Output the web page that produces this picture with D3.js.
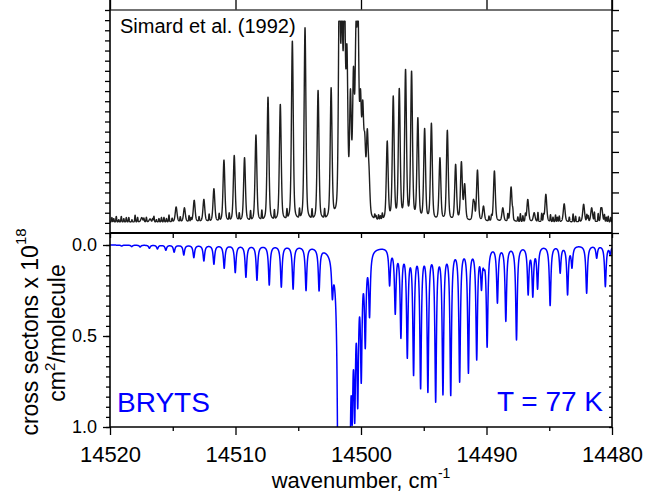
<!DOCTYPE html>
<html><head><meta charset="utf-8">
<script src="https://cdn.jsdelivr.net/npm/d3@7"></script>
<style>
body{margin:0;background:#fff;}
svg{display:block;font-family:"Liberation Sans",Arial,Helvetica,sans-serif;}
</style></head><body>
<svg id="chart" width="646" height="495"></svg>
<script>
// ---------------- data ----------------
const xTicks = [14520, 14510, 14500, 14490, 14480];
const xMinorTicks = [14515, 14505, 14495, 14485];
const yTicksBottom = [0.0, 0.5, 1.0];

// Calculated (BRYTS) spectrum: line centres (cm-1) and peak cross sections
const calcCenters = [
  14519.07, 14518.27, 14517.60, 14516.86, 14516.22, 14515.55, 14514.89, 14514.12, 14513.32, 14512.52,
  14511.72, 14510.90, 14510.02, 14509.17, 14508.29, 14507.31, 14506.35, 14505.41, 14504.38, 14503.34,
  14502.28,
  14501.80, 14501.70, 14501.60, 14501.50, 14501.40, 14501.30, 14501.20, 14501.10, 14501.00, 14500.90,
  14500.70, 14500.50, 14500.26, 14499.98, 14499.66, 14499.32,
  14497.72, 14497.27, 14496.82, 14496.31, 14495.81, 14495.25, 14494.67, 14494.05, 14493.47, 14492.85,
  14492.14, 14491.44, 14490.78, 14490.40, 14490.20, 14489.95, 14489.13, 14488.46, 14487.61, 14486.68,
  14486.31, 14485.93, 14484.93, 14484.13, 14483.54, 14483.19, 14482.02, 14481.22, 14480.53, 14480.14
];
const calcDepths = [
  0.006, 0.009, 0.011, 0.018, 0.022, 0.029, 0.040, 0.055, 0.070, 0.088,
  0.106, 0.128, 0.152, 0.178, 0.194, 0.220, 0.232, 0.243, 0.251, 0.253,
  0.300,
  2.0, 2.4, 2.6, 2.6, 2.6, 2.6, 2.6, 2.4, 2.0, 1.5,
  0.99, 0.98, 0.90, 0.76, 0.57, 0.40,
  0.225, 0.381, 0.513, 0.623, 0.718, 0.791, 0.811, 0.864, 0.824, 0.828,
  0.754, 0.705, 0.632, 0.25, 0.14, 0.562, 0.32, 0.42, 0.522, 0.275,
  0.287, 0.243, 0.333, 0.155, 0.275, 0.128, 0.265, 0.073, 0.229, 0.055
];

// Observed spectrum (Simard et al. 1992): peak positions and heights above baseline, upper panel
const obsCenters = [
  14517.47, 14516.81, 14514.73, 14514.07, 14513.29, 14512.52, 14511.72, 14510.92, 14510.10, 14509.28,
  14508.37, 14507.41, 14506.43, 14505.47, 14504.46, 14503.42, 14502.38,
  14501.72, 14501.52, 14501.32, 14501.12, 14500.84, 14500.60, 14500.40, 14500.24, 14500.04, 14499.86,
  14499.70, 14499.50, 14499.36,
  14497.91, 14497.43, 14496.95, 14496.45, 14495.97, 14495.47, 14494.93, 14494.39, 14493.71, 14493.12,
  14492.46, 14492.00, 14491.74, 14491.04, 14490.72, 14490.24, 14489.37, 14488.70, 14488.04, 14486.71,
  14486.20, 14485.27, 14483.81, 14482.26, 14481.62, 14480.82
];
const obsHeights = [
  0.020, 0.014, 0.068, 0.064, 0.098, 0.102, 0.150, 0.279, 0.300, 0.290,
  0.392, 0.563, 0.530, 0.815, 0.875, 0.593, 0.605,
  1.2, 1.0, 1.1, 0.8, 0.6, 0.7, 0.9, 1.0, 0.6, 0.55,
  0.40, 0.42, 0.25,
  0.365, 0.568, 0.602, 0.688, 0.680, 0.470, 0.422, 0.445, 0.290, 0.413,
  0.260, 0.272, 0.173, 0.102, 0.234, 0.072, 0.230, 0.064, 0.158, 0.102,
  0.042, 0.125, 0.082, 0.080, 0.064, 0.064
];
// small baseline wiggles seen on the recorded trace
const obsNoiseCenters = [
  14519.85, 14519.7, 14519.5, 14519.3, 14519.1, 14518.9, 14518.7, 14518.5, 14518.25, 14518.0,
  14517.8, 14517.3, 14517.1, 14516.6, 14516.5, 14516.3, 14516.1, 14515.9, 14515.7, 14515.5,
  14515.3, 14515.05, 14514.4, 14513.7, 14513.55, 14512.9, 14512.1, 14511.3, 14510.5, 14509.7,
  14508.8, 14507.9, 14506.9, 14505.9, 14504.9, 14503.9, 14502.9, 14498.9, 14498.8, 14498.6,
  14498.45, 14498.3, 14490.95, 14489.8, 14489.6, 14488.3, 14487.9, 14487.5, 14487.3, 14487.1,
  14486.9, 14485.9, 14485.6, 14485.45, 14484.9, 14484.7, 14484.5, 14484.35, 14484.2, 14483.4,
  14483.1, 14482.9, 14482.6, 14482.0, 14481.9, 14481.4, 14481.1, 14480.9, 14480.6, 14480.45,
  14480.3, 14480.1
];
const obsNoiseHeights = [
  0.020, 0.015, 0.025, 0.010, 0.025, 0.015, 0.020, 0.020, 0.010, 0.030,
  0.020, 0.015, 0.020, 0.015, 0.025, 0.010, 0.015, 0.020, 0.020, 0.015,
  0.030, 0.015, 0.020, 0.025, 0.015, 0.020, 0.030, 0.030, 0.030, 0.030,
  0.040, 0.040, 0.040, 0.040, 0.040, 0.040, 0.040, 0.020, 0.015, 0.020,
  0.015, 0.025, 0.030, 0.020, 0.020, 0.030, 0.030, 0.020, 0.035, 0.025,
  0.030, 0.040, 0.035, 0.025, 0.030, 0.020, 0.030, 0.020, 0.025, 0.020,
  0.035, 0.025, 0.020, 0.030, 0.025, 0.040, 0.035, 0.025, 0.030, 0.020,
  0.025, 0.020
];
const obsBaseline = 0.045;
const obsSaturation = 0.95;

// ---------------- layout ----------------
const L = 110, R = 612, topT = 10, mid = 233, botB = 427;
const svg = d3.select("#chart");

const x = d3.scaleLinear().domain([14520, 14480]).range([L, R]);
const yTop = d3.scaleLinear().domain([0, 1]).range([232, 10]);
const yBot = d3.scaleLinear().domain([0, 1]).range([245, botB]);

// line profile (pseudo-Voigt)
function pv(d, w, eta) { const r = d * d / (w * w); return (1 - eta) * Math.exp(-Math.LN2 * r) + eta / (1 + r); }
function fitAmps(centers, targets, w, eta) {
  let A = targets.slice();
  for (let it = 0; it < 80; it++) {
    const S = centers.map(c0 => centers.reduce((s, c, j) => s + A[j] * pv(c0 - c, w, eta), 0));
    A = A.map((a, i) => a * targets[i] / S[i]);
  }
  return A;
}
const grid = d3.range(14480, 14520.0001, 0.004);

const cw = 0.075, ceta = 1.0;
const cA = fitAmps(calcCenters, calcDepths, cw, ceta);
const calcSpec = grid.map(v => [v, calcCenters.reduce((s, c, j) => s + cA[j] * pv(v - c, cw, ceta), 0)]);

const ow = 0.085, oeta = 0.4;
const oA = fitAmps(obsCenters, obsHeights, ow, oeta);
const obsSpec = grid.map(v => {
  let s = obsBaseline;
  obsCenters.forEach((c, j) => { s += oA[j] * pv(v - c, ow, oeta); });
  obsNoiseCenters.forEach((c, j) => { s += obsNoiseHeights[j] * pv(v - c, 0.035, 0); });
  return [v, Math.min(s, obsSaturation)];
});

// clip paths
const defs = svg.append("defs");
defs.append("clipPath").attr("id", "clipTop").append("rect").attr("x", L).attr("y", topT).attr("width", R - L).attr("height", mid - topT);
defs.append("clipPath").attr("id", "clipBot").append("rect").attr("x", L).attr("y", mid).attr("width", R - L).attr("height", botB - mid);

// spectra
svg.append("path").datum(obsSpec).attr("clip-path", "url(#clipTop)")
  .attr("fill", "none").attr("stroke", "#1e1e1e").attr("stroke-width", 1.4).attr("stroke-linejoin", "round")
  .attr("d", d3.line().x(d => x(d[0])).y(d => yTop(d[1])));
svg.append("path").datum(calcSpec).attr("clip-path", "url(#clipBot)")
  .attr("fill", "none").attr("stroke", "#0000ff").attr("stroke-width", 1.5).attr("stroke-linejoin", "round")
  .attr("d", d3.line().x(d => x(d[0])).y(d => yBot(Math.min(d[1], 1.05))));

// ---------------- axes ----------------
function style(g, size) {
  g.select(".domain").remove();
  g.selectAll("line").attr("stroke", "#000").attr("stroke-width", 1.3);
  g.selectAll("text").attr("fill", "#000").attr("font-size", size).attr("font-family", '"Liberation Sans",Arial,sans-serif');
}
// bottom panel x axis
svg.append("g").attr("transform", `translate(0,${botB})`)
  .call(d3.axisBottom(x).tickValues(xTicks).tickSize(8).tickSizeOuter(0).tickPadding(11).tickFormat(d3.format("d")))
  .call(g => style(g, 22));
svg.append("g").attr("transform", `translate(0,${botB})`)
  .call(d3.axisBottom(x).tickValues(xMinorTicks).tickSize(4).tickSizeOuter(0).tickFormat(""))
  .call(g => style(g, 0));
// bottom panel y axis
svg.append("g").attr("transform", `translate(${L},0)`)
  .call(d3.axisLeft(yBot).tickValues(yTicksBottom).tickSize(7).tickSizeOuter(0).tickPadding(6).tickFormat(d3.format(".1f")))
  .call(g => style(g, 18));
const yMinor = d3.range(19).map(i => i / 18);
svg.append("g").attr("transform", `translate(${L},0)`)
  .call(d3.axisLeft(yBot).tickValues(yMinor).tickSize(4).tickSizeOuter(0).tickFormat(""))
  .call(g => style(g, 0));
svg.append("g").attr("transform", `translate(${R},0)`)
  .call(d3.axisLeft(yBot).tickValues(yMinor).tickSize(3).tickSizeOuter(0).tickFormat(""))
  .call(g => style(g, 0));
// top panel frame ticks
const yFrame = d3.scaleLinear().domain([0, 22]).range([mid, topT]);
svg.append("g").attr("transform", `translate(${L},0)`)
  .call(d3.axisLeft(yFrame).tickValues(d3.range(23)).tickSize(5).tickSizeOuter(0).tickFormat(""))
  .call(g => style(g, 0));
svg.append("g").attr("transform", `translate(${R},0)`)
  .call(d3.axisRight(yFrame).tickValues(d3.range(0, 23, 2)).tickSize(7).tickSizeOuter(0).tickFormat(""))
  .call(g => style(g, 0));
svg.append("g").attr("transform", `translate(0,${topT})`)
  .call(d3.axisTop(x).tickValues(xTicks).tickSize(10).tickSizeOuter(0).tickFormat(""))
  .call(g => style(g, 0));
svg.append("g").attr("transform", `translate(0,${mid})`)
  .call(d3.axisBottom(x).tickValues(xTicks.concat(xMinorTicks)).tickSize(5).tickSizeOuter(0).tickFormat(""))
  .call(g => style(g, 0));

// frame lines
const frame = svg.append("g").attr("fill", "none");
frame.append("line").attr("x1", L).attr("x2", R).attr("y1", topT).attr("y2", topT).attr("stroke", "#444").attr("stroke-width", 1.5);
frame.append("line").attr("x1", L).attr("x2", R).attr("y1", mid).attr("y2", mid).attr("stroke", "#000").attr("stroke-width", 2);
frame.append("line").attr("x1", L).attr("x2", R).attr("y1", botB).attr("y2", botB).attr("stroke", "#000").attr("stroke-width", 1.6);
frame.append("line").attr("x1", L).attr("x2", L).attr("y1", 0).attr("y2", botB).attr("stroke", "#000").attr("stroke-width", 1.6);
frame.append("line").attr("x1", R).attr("x2", R).attr("y1", 0).attr("y2", botB).attr("stroke", "#000").attr("stroke-width", 1.6);

// ---------------- texts ----------------
svg.append("text").attr("x", 120).attr("y", 33).attr("font-size", 20).attr("fill", "#000").text("Simard et al. (1992)");
svg.append("text").attr("x", 117).attr("y", 412).attr("font-size", 28).attr("fill", "#0000ff").text("BRYTS");
svg.append("text").attr("x", 603).attr("y", 411).attr("font-size", 28).attr("fill", "#0000ff").attr("text-anchor", "end").text("T = 77 K");

const yl1 = svg.append("text").attr("transform", "translate(38,332) rotate(-90)").attr("text-anchor", "middle").attr("font-size", 23).attr("fill", "#000");
yl1.append("tspan").text("cross sectons x 10");
yl1.append("tspan").attr("font-size", 15).attr("dy", -12).text("18");

const yl2 = svg.append("text").attr("transform", "translate(65,333) rotate(-90)").attr("text-anchor", "middle").attr("font-size", 23).attr("fill", "#000");
yl2.append("tspan").text("cm");
yl2.append("tspan").attr("font-size", 15).attr("dy", -10).text("2");
yl2.append("tspan").attr("dy", 10).text("/molecule");

const xl = svg.append("text").attr("x", 361).attr("y", 488).attr("text-anchor", "middle").attr("font-size", 22).attr("fill", "#000");
xl.append("tspan").text("wavenumber, cm");
xl.append("tspan").attr("font-size", 14).attr("dy", -10).text("-1");
</script>
</body></html>
